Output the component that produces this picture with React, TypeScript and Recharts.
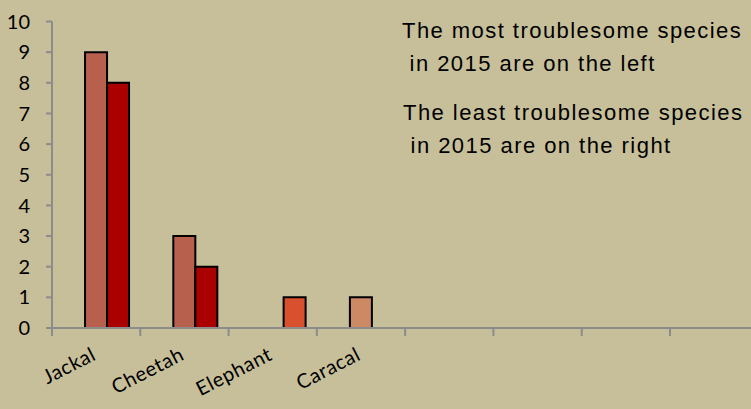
import { BarChart, Bar, XAxis, YAxis, Cell } from "recharts";

const categories = ["Jackal", "Cheetah", "Elephant", "Caracal", "", "", "", ""];
const emptySeries = [null, null, null, null, null, null, null, null];
const mostSeries = [9, 3, null, 1, null, null, null, null];
const leastSeries = [8, 2, 1, null, null, null, null, null];
const mostColors = ["#B8604E", "#B8604E", "#B8604E", "#CD8864"];
const leastColors = ["#AA0000", "#AA0000", "#D9502F", "#AA0000"];
const yTicks = [0, 1, 2, 3, 4, 5, 6, 7, 8, 9, 10];
const notes = [
  "The most troublesome species",
  " in 2015 are on the left",
  "The least troublesome species",
  " in 2015 are on the right",
];

const data = categories.map((name, i) => ({
  name,
  empty: emptySeries[i],
  most: mostSeries[i],
  least: leastSeries[i],
}));

const BG = "#C7BF99";
const AXIS = "#8C8C8C";
const BAND = (758.3 - 52) / categories.length;

function XTick(props: any) {
  const { x, y, payload } = props;
  const left = x - BAND / 2;
  const ax = x + 1;
  const ay = y + 31;
  return (
    <g>
      <line x1={left} y1={y} x2={left} y2={y + 8} stroke={AXIS} strokeWidth={2} />
      <text
        x={ax}
        y={ay}
        textAnchor="end"
        transform={`rotate(-27, ${ax}, ${ay})`}
        fontFamily="Lato, sans-serif"
        fontSize={20}
        letterSpacing={0.6}
        fill="#000"
      >
        {payload.value}
      </text>
    </g>
  );
}

export default function App() {
  return (
    <div
      style={{
        position: "fixed",
        left: 0,
        top: 0,
        width: 751,
        height: 409,
        overflow: "hidden",
        background: BG,
      }}
    >
      <BarChart
        width={760}
        height={409}
        data={data}
        barCategoryGap="12.5%"
        barGap={0}
        margin={{ top: 21.5, right: 1.7, left: 0, bottom: 5 }}
      >
        <YAxis
          width={52}
          domain={[0, 10]}
          ticks={yTicks}
          interval={0}
          axisLine={{ stroke: AXIS, strokeWidth: 2 }}
          tickLine={{ stroke: AXIS, strokeWidth: 2 }}
          tickSize={6}
          tickMargin={16}
          tick={{ fill: "#000", fontSize: 20, fontFamily: "Lato, sans-serif" }}
        />
        <XAxis
          dataKey="name"
          interval={0}
          height={76}
          tickSize={0}
          tickMargin={0}
          tickLine={false}
          axisLine={{ stroke: AXIS, strokeWidth: 2 }}
          tick={<XTick />}
        />
        <Bar dataKey="empty" isAnimationActive={false} />
        <Bar dataKey="most" stroke="#000" strokeWidth={2} isAnimationActive={false}>
          {data.map((d, i) => (
            <Cell key={i} fill={mostColors[i] ?? mostColors[0]} />
          ))}
        </Bar>
        <Bar dataKey="least" stroke="#000" strokeWidth={2} isAnimationActive={false}>
          {data.map((d, i) => (
            <Cell key={i} fill={leastColors[i] ?? leastColors[0]} />
          ))}
        </Bar>
      </BarChart>
      <svg
        width={751}
        height={409}
        style={{ position: "absolute", left: 0, top: 0, pointerEvents: "none" }}
      >
        {notes.map((t, i) => (
          <text
            key={i}
            x={[402, 402, 403, 403][i]}
            y={[37.5, 71, 120, 153][i]}
            xmlSpace="preserve"
            fontFamily="'Liberation Sans', Arial, sans-serif"
            fontSize={22}
            letterSpacing={1.45}
            fill="#000"
            style={{ whiteSpace: "pre" }}
          >
            {t}
          </text>
        ))}
      </svg>
    </div>
  );
}
